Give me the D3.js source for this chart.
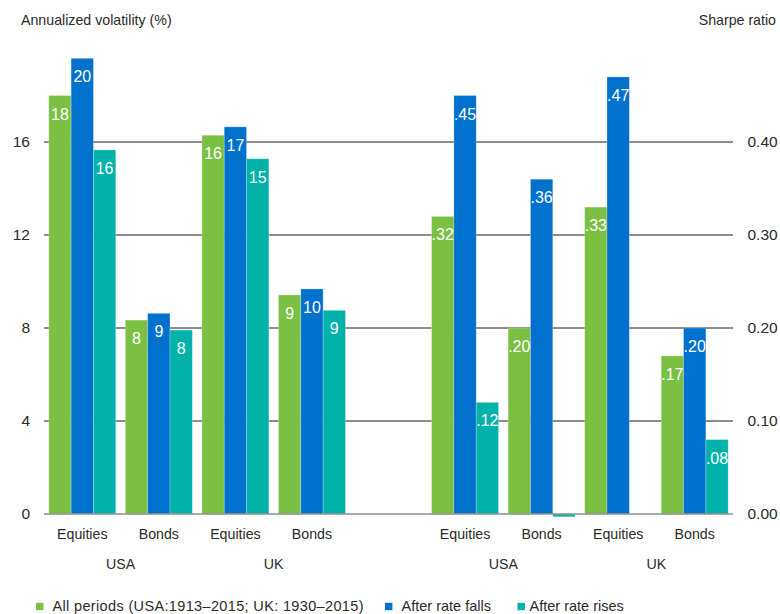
<!DOCTYPE html>
<html>
<head>
<meta charset="utf-8">
<script src="https://cdn.jsdelivr.net/npm/d3@7"></script>
<style>
  html, body { margin: 0; padding: 0; background: #fff; }
  svg { display: block; font-family: "Liberation Sans", Arial, Helvetica, sans-serif; }
</style>
</head>
<body>
<svg id="chart" width="780" height="614"></svg>
<script>
// Asset classes and their markets
const categories = ["Equities", "Bonds", "Equities", "Bonds"];
const countries = ["USA", "USA", "UK", "UK"];

// Series names (legend)
const seriesNames = [
  "All periods (USA:1913–2015; UK: 1930–2015)",
  "After rate falls",
  "After rate rises"
];
const seriesColors = ["#7bc043", "#0071cd", "#00b2aa"];

// Annualized volatility (%), per category, for each series
const volAll   = [18.0, 8.34, 16.29, 9.42];
const volFalls = [19.6, 8.63, 16.65, 9.68];
const volRises = [15.66, 7.91, 15.28, 8.76];

// Sharpe ratio, per category, for each series
const sharpeAll   = [0.32, 0.20, 0.33, 0.17];
const sharpeFalls = [0.45, 0.36, 0.47, 0.20];
const sharpeRises = [0.12, -0.003, 0.00, 0.08];

// Axis ticks
const volTicks = [0, 4, 8, 12, 16];
const sharpeTicks = [0, 0.1, 0.2, 0.3, 0.4];

const leftTitle = "Annualized volatility (%)";
const rightTitle = "Sharpe ratio";

// ---------------------------------------------------------------
const svg = d3.select("#chart");
const plotLeft = 44, plotRight = 733, plotBottom = 514, plotTop = 142;
const textColor = "#2b2b2b";

// Nine slots: four volatility groups, one empty slot, four Sharpe groups
const slots = d3.range(9);
const x = d3.scaleBand()
  .domain(slots)
  .range([plotLeft, plotRight])
  .paddingInner(0.125)
  .paddingOuter(0.0625);
const xInner = d3.scaleBand()
  .domain(d3.range(seriesNames.length))
  .range([0, x.bandwidth()]);

const yVol = d3.scaleLinear().domain([0, 16]).range([plotBottom, plotTop]);
const ySharpe = d3.scaleLinear().domain([0, 0.4]).range([plotBottom, plotTop]);

// Build the bar table from the named arrays
const volSeries = [volAll, volFalls, volRises];
const sharpeSeries = [sharpeAll, sharpeFalls, sharpeRises];
const fmtVol = d3.format(".0f");
const fmtSharpe = v => d3.format(".2f")(v).replace(/^(-?)0\./, "$1.");

const bars = [];
categories.forEach((c, i) => {
  volSeries.forEach((arr, s) => bars.push({
    slot: i, s, value: arr[i], y: yVol, label: fmtVol(arr[i])
  }));
  sharpeSeries.forEach((arr, s) => bars.push({
    slot: 5 + i, s, value: arr[i], y: ySharpe, label: fmtSharpe(arr[i])
  }));
});

// Gridlines (behind bars)
svg.append("g")
  .selectAll("line")
  .data(volTicks.filter(t => t > 0))
  .join("line")
  .attr("x1", plotLeft).attr("x2", plotRight)
  .attr("y1", d => yVol(d)).attr("y2", d => yVol(d))
  .attr("stroke", "#1a1a1a")
  .attr("stroke-width", 1);

// Bars
const barG = svg.append("g");
barG.selectAll("rect")
  .data(bars.filter(d => d.value !== 0))
  .join("rect")
  .attr("x", d => x(d.slot) + xInner(d.s))
  .attr("width", xInner.bandwidth())
  .attr("y", d => Math.min(d.y(d.value), d.y(0)))
  .attr("height", d => Math.abs(d.y(d.value) - d.y(0)))
  .attr("fill", d => seriesColors[d.s])
  .attr("stroke", "#ffffff")
  .attr("stroke-opacity", 0.3)
  .attr("stroke-width", 0.8);

// Value labels inside the top of each bar
barG.selectAll("text")
  .data(bars.filter(d => Math.abs(d.value) >= 0.01))
  .join("text")
  .attr("x", d => x(d.slot) + xInner(d.s) + xInner.bandwidth() / 2)
  .attr("y", d => d.y(d.value) + 24)
  .attr("text-anchor", "middle")
  .attr("fill", "#ffffff")
  .attr("font-size", 16)
  .text(d => d.label);

// Zero baseline
svg.append("line")
  .attr("x1", plotLeft).attr("x2", plotRight)
  .attr("y1", yVol(0)).attr("y2", yVol(0))
  .attr("stroke", "#8e8e8e")
  .attr("stroke-width", 1.6);

// Left axis labels
const axisLeft = d3.axisLeft(yVol).tickValues(volTicks).tickSize(0).tickPadding(0);
const gl = svg.append("g").attr("transform", "translate(30,0)").call(axisLeft);
gl.select(".domain").remove();
gl.selectAll("text").attr("font-size", 15.5).attr("fill", textColor)
  .attr("font-family", "Liberation Sans, Arial, sans-serif");

// Right axis labels
const axisRight = d3.axisRight(ySharpe).tickValues(sharpeTicks)
  .tickFormat(d3.format(".2f")).tickSize(0).tickPadding(0);
const gr = svg.append("g").attr("transform", "translate(747.5,0)").call(axisRight);
gr.select(".domain").remove();
gr.selectAll("text").attr("font-size", 15.5).attr("fill", textColor)
  .attr("font-family", "Liberation Sans, Arial, sans-serif");

// Axis titles
svg.append("text").attr("x", 21).attr("y", 25)
  .attr("font-size", 14.2).attr("fill", textColor).text(leftTitle);
svg.append("text").attr("x", 776).attr("y", 25).attr("text-anchor", "end")
  .attr("font-size", 14.2).attr("fill", textColor).text(rightTitle);

// Category labels, both halves
const catG = svg.append("g").attr("font-size", 14.2).attr("fill", textColor)
  .attr("text-anchor", "middle");
[0, 5].forEach(offset => {
  categories.forEach((c, i) => {
    catG.append("text")
      .attr("x", x(offset + i) + x.bandwidth() / 2)
      .attr("y", 539)
      .text(c);
  });
  // Country labels centred under their pair of categories
  const seen = new Set();
  countries.forEach((k, i) => {
    if (seen.has(k)) return;
    seen.add(k);
    const idx = countries.map((v, j) => v === k ? j : -1).filter(j => j >= 0);
    const cx = d3.mean(idx, j => x(offset + j) + x.bandwidth() / 2);
    catG.append("text").attr("x", cx).attr("y", 569).text(k);
  });
});

// Legend
const legendX = [36, 385, 517.5];
const lg = svg.append("g").attr("font-size", 14.5).attr("fill", textColor);
seriesNames.forEach((name, s) => {
  lg.append("rect")
    .attr("x", legendX[s]).attr("y", 602.8)
    .attr("width", 7.4).attr("height", 7.4)
    .attr("fill", seriesColors[s]);
  lg.append("text")
    .attr("x", legendX[s] + (s === 2 ? 12 : 16.5)).attr("y", 610.5)
    .attr("letter-spacing", s === 0 ? 0.35 : 0)
    .text(name);
});
</script>
</body>
</html>
